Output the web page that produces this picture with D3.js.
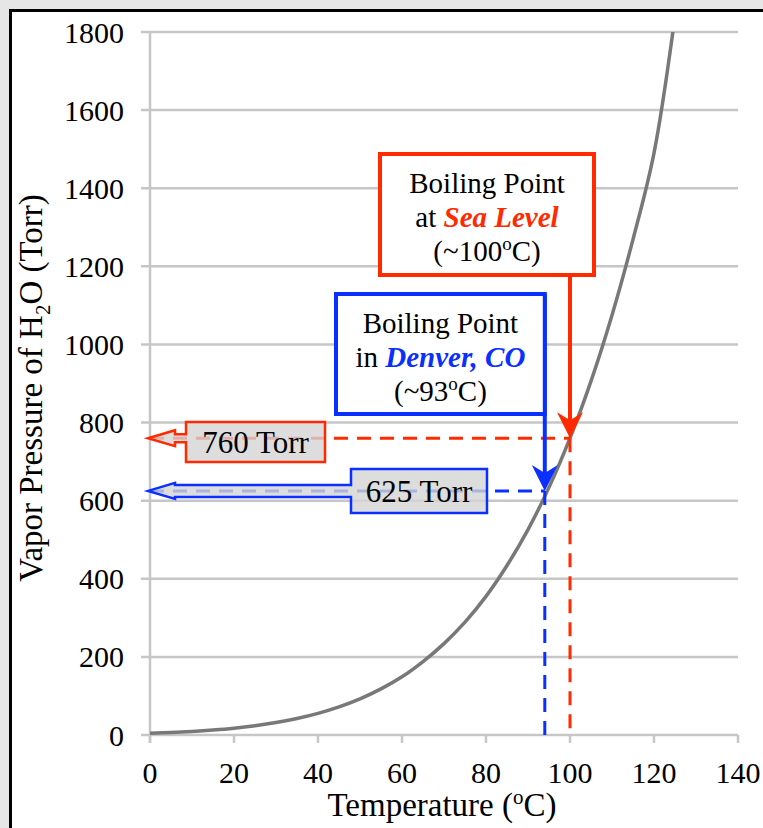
<!DOCTYPE html>
<html>
<head>
<meta charset="utf-8">
<script src="https://cdn.jsdelivr.net/npm/d3@7"></script>
<style>
  body { margin: 0; background: #e6e6e6; }
  svg { display: block; font-family: "Liberation Serif", "Times New Roman", serif; }
</style>
</head>
<body>
<div id="chart"></div>
<script>
const width = 763, height = 828;

// vapor pressure of water
const temps     = [0, 5, 10, 15, 20, 25, 30, 35, 40, 45, 50, 55, 60, 65, 70, 75, 80, 85, 90, 95, 100, 105, 110, 115, 120, 125];
const pressures = [4.6, 6.5, 9.2, 12.8, 17.5, 23.8, 31.8, 42.2, 55.3, 71.9, 92.5, 118, 149, 188, 234, 289, 355, 434, 526, 634, 760, 906, 1075, 1269, 1490, 1840];
const xTicks = [0, 20, 40, 60, 80, 100, 120, 140];
const yTicks = [0, 200, 400, 600, 800, 1000, 1200, 1400, 1600, 1800];

// annotated boiling points
const seaLevel = { temp: 100, pressure: 760, label: "760 Torr" };
const denver   = { temp: 94,  pressure: 625, label: "625 Torr" };

const red = "#ff2a00", blue = "#0a30ff";

const svg = d3.select("#chart").append("svg")
    .attr("width", width)
    .attr("height", height);

// white panel with black frame
svg.append("rect").attr("x", 10.5).attr("y", 10.5).attr("width", width).attr("height", height)
    .attr("fill", "#fff").attr("stroke", "#000").attr("stroke-width", 3);

const x = d3.scaleLinear().domain([0, 140]).range([150, 738]);
const y = d3.scaleLinear().domain([0, 1800]).range([735, 32]);

const grid = "#c6c6c6";

// horizontal gridlines (with outer tick on the left)
svg.append("g").selectAll("line").data(yTicks).enter().append("line")
    .attr("x1", x(0) - 9).attr("x2", x(140))
    .attr("y1", d => y(d)).attr("y2", d => y(d))
    .attr("stroke", grid).attr("stroke-width", 2.5);

// y axis line
svg.append("line").attr("x1", x(0)).attr("x2", x(0)).attr("y1", y(1800)).attr("y2", y(0) + 8)
    .attr("stroke", grid).attr("stroke-width", 2.5);

// x ticks
svg.append("g").selectAll("line").data(xTicks).enter().append("line")
    .attr("x1", d => x(d)).attr("x2", d => x(d))
    .attr("y1", y(0)).attr("y2", y(0) + 8)
    .attr("stroke", grid).attr("stroke-width", 2.5);

// tick labels
svg.append("g").selectAll("text").data(yTicks).enter().append("text")
    .attr("x", x(0) - 26).attr("y", d => y(d)).attr("dy", "0.35em")
    .attr("text-anchor", "end").attr("font-size", 30).text(d => d);

svg.append("g").selectAll("text").data(xTicks).enter().append("text")
    .attr("x", d => x(d)).attr("y", y(0) + 48)
    .attr("text-anchor", "middle").attr("font-size", 30).text(d => d);

// axis titles
const xt = svg.append("text").attr("x", 442).attr("y", 816).attr("text-anchor", "middle").attr("font-size", 33);
xt.append("tspan").text("Temperature (");
xt.append("tspan").attr("font-size", 21).attr("dy", -12).text("o");
xt.append("tspan").attr("dy", 12).text("C)");

const yt = svg.append("text").attr("transform", "translate(42,388) rotate(-90)")
    .attr("text-anchor", "middle").attr("font-size", 33);
yt.append("tspan").text("Vapor Pressure of H");
yt.append("tspan").attr("font-size", 21).attr("dy", 8).text("2");
yt.append("tspan").attr("dy", -8).text("O (Torr)");

// curve
svg.append("clipPath").attr("id", "plot").append("rect")
    .attr("x", x(0)).attr("y", y(1800)).attr("width", x(140) - x(0)).attr("height", y(0) - y(1800));

const line = d3.line().x(d => x(d[0])).y(d => y(d[1])).curve(d3.curveCatmullRom);
svg.append("path")
    .datum(d3.zip(temps, pressures))
    .attr("clip-path", "url(#plot)")
    .attr("d", line)
    .attr("fill", "none").attr("stroke", "#787878").attr("stroke-width", 3.5);

// dashed guides
function guides(p, color) {
    svg.append("line").attr("x1", x(0)).attr("x2", x(p.temp)).attr("y1", y(p.pressure)).attr("y2", y(p.pressure))
        .attr("stroke", color).attr("stroke-width", 3).attr("stroke-dasharray", "14,9");
    svg.append("line").attr("x1", x(p.temp)).attr("x2", x(p.temp)).attr("y1", y(p.pressure)).attr("y2", y(0))
        .attr("stroke", color).attr("stroke-width", 3).attr("stroke-dasharray", "14,9");
}
guides(seaLevel, red);
guides(denver, blue);

// left-arrow callouts with pressure labels
function callout(p, color, bx0, bx1, by0, by1, shaftHalf, headHalf) {
    const cy = y(p.pressure), tip = x(0) - 2, headEnd = tip + 27;
    const path = `M${bx0},${by0} H${bx1} V${by1} H${bx0} V${cy + shaftHalf} H${headEnd} L${headEnd},${cy + headHalf}` +
        ` L${tip},${cy} L${headEnd},${cy - headHalf} L${headEnd},${cy - shaftHalf} H${bx0} Z`;
    svg.append("path").attr("d", path)
        .attr("fill", "#d4d4d4").attr("fill-opacity", 0.8)
        .attr("stroke", color).attr("stroke-width", 2.5).attr("stroke-linejoin", "miter");
    svg.append("text").attr("x", (bx0 + bx1) / 2).attr("y", (by0 + by1) / 2).attr("dy", "0.36em")
        .attr("text-anchor", "middle").attr("font-size", 31).text(p.label);
}
callout(seaLevel, red, 186, 325, 422, 462, 4, 8);
callout(denver, blue, 351, 487, 469, 513, 6, 8);

// boxes with down arrows
function arrowHead(px, py, color) {
    svg.append("path")
        .attr("d", `M${px},${py} L${px - 13},${py - 26} L${px},${py - 18} L${px + 13},${py - 26} Z`)
        .attr("fill", color);
}

function boxNote(bx0, bx1, by0, by1, color, lines) {
    svg.append("rect").attr("x", bx0).attr("y", by0).attr("width", bx1 - bx0).attr("height", by1 - by0)
        .attr("fill", "#fff").attr("stroke", color).attr("stroke-width", 4);
    const cx = (bx0 + bx1) / 2;
    lines.forEach((ln, i) => {
        const t = svg.append("text").attr("x", cx).attr("y", by0 + 39 + i * 34)
            .attr("text-anchor", "middle").attr("font-size", 29);
        ln.forEach(seg => {
            const s = t.append("tspan").text(seg.text);
            if (seg.em) s.attr("font-weight", "bold").attr("font-style", "italic").attr("fill", color);
            if (seg.sup) s.attr("font-size", 19).attr("dy", -11);
            if (seg.down) s.attr("dy", 11);
        });
    });
}

// red (sea level)
svg.append("line").attr("x1", x(seaLevel.temp)).attr("x2", x(seaLevel.temp))
    .attr("y1", 275).attr("y2", y(seaLevel.pressure) - 12)
    .attr("stroke", red).attr("stroke-width", 4);
arrowHead(x(seaLevel.temp), y(seaLevel.pressure), red);
boxNote(380, 594, 154, 275, red, [
    [{ text: "Boiling Point" }],
    [{ text: "at " }, { text: "Sea Level", em: true }],
    [{ text: "(~100" }, { text: "o", sup: true }, { text: "C)", down: true }]
]);

// blue (Denver)
svg.append("line").attr("x1", x(denver.temp)).attr("x2", x(denver.temp))
    .attr("y1", 294).attr("y2", y(denver.pressure) - 12)
    .attr("stroke", blue).attr("stroke-width", 4);
arrowHead(x(denver.temp), y(denver.pressure), blue);
boxNote(336, x(denver.temp), 294, 414, blue, [
    [{ text: "Boiling Point" }],
    [{ text: "in " }, { text: "Denver, CO", em: true }],
    [{ text: "(~93" }, { text: "o", sup: true }, { text: "C)", down: true }]
]);
</script>
</body>
</html>
